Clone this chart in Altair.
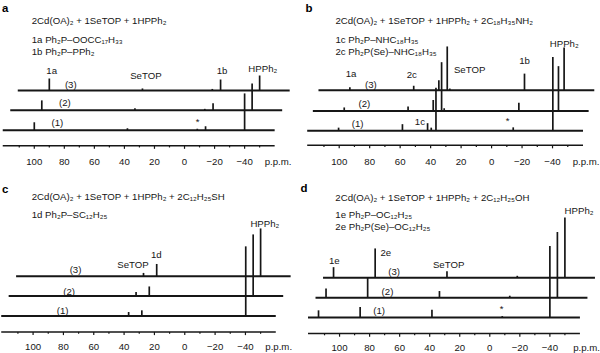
import altair as alt
import pandas as pd

# ---------------- data (ppm positions and peak heights) -------------
# panel a
A_PPM = [100.0, 38.0, -8.5, -14.0, -40.0]
A_T1 = [8, 2, 1.5, 4, 37]
A_T2 = [10, 2, 1.5, 7, 27]
A_T3 = [12, 2, 1.5, 11, 15]
# panel b
B_PPM = [100.4, 58.5, 42.0, 39.6, 36.5, 34.8, -14.2, -40.2]
B_T1 = [3, 6.5, 7.5, 3, 43, 0, 3.3, 74]
B_T2 = [3.5, 4.5, 11, 0, 49, 2.7, 8.3, 45]
B_T3 = [3, 4.5, 10, 0, 44, 1.7, 16.7, 43]
# panel c
C_PPM = [37.0, 28.3, -40.2]
C_T1 = [4, 5.7, 70]
C_T2 = [4, 9.7, 62]
C_T3 = [3.3, 12.3, 48]
# panel d
D_PPM = [114.0, 86.3, 38.5, -8.3, -40.0]
D_T1 = [7.3, 10.6, 8, 1.5, 72]
D_T2 = [9.3, 20, 6.7, 2, 66]
D_T3 = [10.7, 29.5, 6.7, 2, 60.5]

MAJOR_TICKS = [100, 80, 60, 40, 20, 0, -20, -40]
MAJOR_LABELS = ["100", "80", "60", "40", "20", "0", "\u221220", "\u221240"]
MINOR_TICKS = [110, 90, 70, 50, 30, 10, -10, -30, -50]
SPAN = [121.0, -60.0]

TITLES = {
    "a": ["2Cd(OA)\u2082 + 1SeTOP + 1HPPh\u2082",
          "1a Ph\u2082P\u2013OOCC\u2081\u2087H\u2083\u2083",
          "1b Ph\u2082P\u2013PPh\u2082"],
    "b": ["2Cd(OA)\u2082 + 1SeTOP + 1HPPh\u2082 + 2C\u2081\u2088H\u2083\u2085NH\u2082",
          "1c Ph\u2082P\u2013NHC\u2081\u2088H\u2083\u2085",
          "2c Ph\u2082P(Se)\u2013NHC\u2081\u2088H\u2083\u2085"],
    "c": ["2Cd(OA)\u2082 + 1SeTOP + 1HPPh\u2082 + 2C\u2081\u2082H\u2082\u2085SH",
          "1d Ph\u2082P\u2013SC\u2081\u2082H\u2082\u2085"],
    "d": ["2Cd(OA)\u2082 + 1SeTOP + 1HPPh\u2082 + 2C\u2081\u2082H\u2082\u2085OH",
          "1e Ph\u2082P\u2013OC\u2081\u2082H\u2082\u2085",
          "2e Ph\u2082P(Se)\u2013OC\u2081\u2082H\u2082\u2085"],
}
HP = "HPPh\u2082"
LABELS = {
    "a": [("1a", 88.4, 105.7), ("SeTOP", 25.7, 100.2), ("1b", -25.0, 105.2), (HP, -52.1, 108.0),
          ("(3)", 75.7, 91.8), ("(2)", 79.6, 73.0), ("(1)", 84.6, 53.5), ("*", -8.7, 54.0)],
    "b": [("1a", 92.2, 102.7), ("2c", 52.4, 101.0), ("SeTOP", 14.4, 106.8), ("1b", -21.6, 115.2),
          (HP, -47.7, 132.7), ("(3)", 79.2, 91.8), ("(2)", 83.5, 72.7), ("(1)", 87.9, 51.8),
          ("1c", 47.0, 54.3), ("*", -10.6, 55.5)],
    "c": [(HP, -52.8, 128.7), ("1d", 18.8, 97.8), ("SeTOP", 34.1, 87.8),
          ("(3)", 72.0, 83.0), ("(2)", 76.2, 60.3), ("(1)", 80.5, 41.2)],
    "d": [(HP, -59.4, 142.0), ("1e", 103.5, 92.0), ("2e", 69.2, 99.5), ("SeTOP", 27.4, 88.0),
          ("(3)", 63.7, 81.0), ("(2)", 68.1, 60.3), ("(1)", 73.7, 41.7), ("*", -7.9, 43.5)],
}

# ---------------- layout of each panel ---------------------------------------------------
PANELS = {
    "a": dict(W=300, H=176, xdom=[121.5, -77.2], shift=5.0, bases=[46, 66, 86], axis=30.5,
              lab=14.0, ppm=-62.3, letter=(121.5, 168), text_x=101.7, text_y=[156, 137, 125]),
    "b": dict(W=300, H=176, xdom=[125.4, -70.5], shift=3.7, bases=[45.6, 65.4, 86.2], axis=31.0,
              lab=14.0, ppm=-62.0, letter=(122.1, 168), text_x=102.5, text_y=[156, 137, 125]),
    "c": dict(W=300, H=177, xdom=[120.5, -76.3], shift=4.9, bases=[36.3, 56.3, 76.3], axis=20.3,
              lab=5.3, ppm=-61.9, letter=(120.5, 163), text_x=100.9, text_y=[156.3, 138]),
    "d": dict(W=300, H=177, xdom=[126.0, -72.7], shift=5.0, bases=[34.7, 54.7, 74.7], axis=18.7,
              lab=3.7, ppm=-64.4, letter=(126.0, 164), text_x=102.8, text_y=[154.5, 137.8, 126]),
}
SPECTRA = {
    "a": (A_PPM, [A_T1, A_T2, A_T3]),
    "b": (B_PPM, [B_T1, B_T2, B_T3]),
    "c": (C_PPM, [C_T1, C_T2, C_T3]),
    "d": (D_PPM, [D_T1, D_T2, D_T3]),
}

FONT = "Liberation Sans"
INK = "#161616"
FS = 9.7


def panel(key):
    cfg = PANELS[key]
    ppm, traces = SPECTRA[key]
    xs = alt.Scale(domain=cfg["xdom"], nice=False, zero=False)
    ys = alt.Scale(domain=[0, cfg["H"]], nice=False, zero=False)

    def X(f="x"):
        return alt.X(f, type="quantitative", scale=xs, axis=None)

    def Y(f="y"):
        return alt.Y(f, type="quantitative", scale=ys, axis=None)

    base_rows, peak_rows = [], []
    for k, hs in enumerate(traces):
        s = cfg["shift"] * k
        b = cfg["bases"][k]
        base_rows.append({"x": SPAN[0] - s, "x2": SPAN[1] - s, "y": b})
        for p, h in zip(ppm, hs):
            if h > 0:
                peak_rows.append({"x": p - s, "y": b, "y2": b + h})
    base_df = pd.DataFrame(base_rows)
    peak_df = pd.DataFrame(peak_rows)

    axis_df = pd.DataFrame([{"x": SPAN[0], "x2": SPAN[1], "y": cfg["axis"]}])
    tick_df = pd.DataFrame(
        [{"x": t, "y": cfg["axis"], "y2": cfg["axis"] - 3.2} for t in MAJOR_TICKS]
        + [{"x": t, "y": cfg["axis"], "y2": cfg["axis"] - 1.8} for t in MINOR_TICKS]
    )
    tlab_df = pd.DataFrame(
        [{"x": t, "y": cfg["lab"], "t": l} for t, l in zip(MAJOR_TICKS, MAJOR_LABELS)]
        + [{"x": cfg["ppm"], "y": cfg["lab"], "t": "p.p.m."}]
    )
    title_df = pd.DataFrame(
        [{"x": cfg["text_x"], "y": yy, "t": tt} for tt, yy in zip(TITLES[key], cfg["text_y"])]
    )
    lab_df = pd.DataFrame([{"t": t, "x": x, "y": y} for t, x, y in LABELS[key]])
    let_df = pd.DataFrame([{"t": key, "x": cfg["letter"][0], "y": cfg["letter"][1]}])

    baselines = alt.Chart(base_df).mark_rule(color=INK, strokeWidth=2.0).encode(
        x=X(), x2="x2", y=Y())
    peaks = alt.Chart(peak_df).mark_rule(color=INK, strokeWidth=1.7).encode(
        x=X(), y=Y(), y2="y2")
    axis_line = alt.Chart(axis_df).mark_rule(color=INK, strokeWidth=1.5).encode(
        x=X(), x2="x2", y=Y())
    ticks = alt.Chart(tick_df).mark_rule(color=INK, strokeWidth=1.2).encode(
        x=X(), y=Y(), y2="y2")
    tick_labels = alt.Chart(tlab_df).mark_text(
        font=FONT, fontSize=FS, color=INK, align="center", baseline="middle").encode(
        x=X(), y=Y(), text="t:N")
    titles = alt.Chart(title_df).mark_text(
        font=FONT, fontSize=FS, color=INK, align="left", baseline="middle").encode(
        x=X(), y=Y(), text="t:N")
    labels = alt.Chart(lab_df).mark_text(
        font=FONT, fontSize=FS, color=INK, align="center", baseline="middle").encode(
        x=X(), y=Y(), text="t:N")
    letter = alt.Chart(let_df).mark_text(
        font=FONT, fontSize=11.5, fontWeight="bold", color="#000000", align="left",
        baseline="middle").encode(x=X(), y=Y(), text="t:N")

    return alt.layer(
        baselines, peaks, axis_line, ticks, tick_labels, titles, labels, letter
    ).properties(width=cfg["W"], height=cfg["H"])


chart = (
    alt.concat(panel("a"), panel("b"), panel("c"), panel("d"),
               columns=2, spacing=0, bounds="flush")
    .properties(padding=0, background="white")
    .configure_view(strokeWidth=0)
)

chart.save("out.html", embed_options={"renderer": "svg", "actions": False})
